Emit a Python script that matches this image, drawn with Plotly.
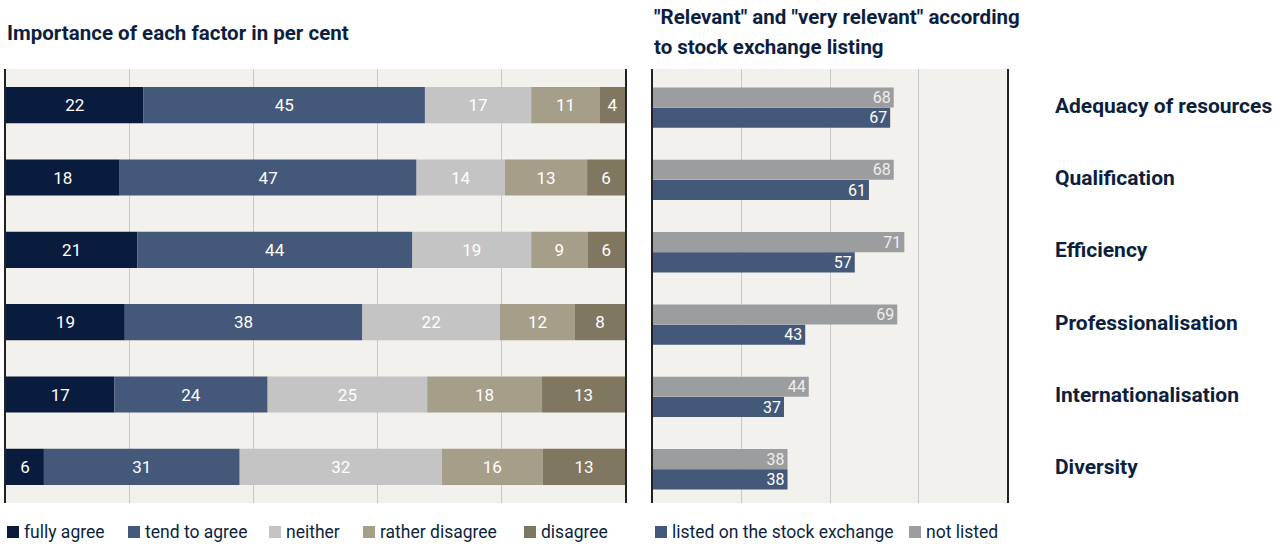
import plotly.graph_objects as go

# ---- data -------------------------------------------------------------
factors = ["Adequacy of resources", "Qualification", "Efficiency",
           "Professionalisation", "Internationalisation", "Diversity"]

answer_levels = ["fully agree", "tend to agree", "neither", "rather disagree", "disagree"]
fully_agree = [22, 18, 21, 19, 17, 6]
tend_to_agree = [45, 47, 44, 38, 24, 31]
neither = [17, 14, 19, 22, 25, 32]
rather_disagree = [11, 13, 9, 12, 18, 16]
disagree = [4, 6, 6, 8, 13, 13]

listing_groups = ["listed on the stock exchange", "not listed"]
listed = [67, 61, 57, 43, 37, 38]
not_listed = [68, 68, 71, 69, 44, 38]

# ---- styling ----------------------------------------------------------
W, H = 1288, 546
NAVY = "#0c1f3f"
FONT = "Roboto"
answer_colors = ["#0a1c3d", "#44587a", "#c4c4c4", "#a59f8a", "#807761"]
listing_colors = ["#44587a", "#9c9d9f"]
PLOT_BG = "#f3f1ed"
GRID = "#c9c9c9"


def px(x):
    return x / W


def py(y):
    return 1 - y / H


fig = go.Figure()

# ---- left panel: stacked shares of each answer (normalised to 100) -----
series = [fully_agree, tend_to_agree, neither, rather_disagree, disagree]
totals = [sum(vals) for vals in zip(*series)]
running = [0.0] * len(factors)
for name, vals, color in zip(answer_levels, series, answer_colors):
    share = [v / t * 100 for v, t in zip(vals, totals)]
    fig.add_trace(go.Bar(
        y=factors, x=share, base=list(running), orientation="h",
        name=name, marker=dict(color=color, line=dict(width=0)),
        width=0.5, text=[str(v) for v in vals],
        textposition="inside", insidetextanchor="middle", textangle=0,
        textfont=dict(family=FONT, size=17, color="white"),
        constraintext="none", hoverinfo="skip",
        xaxis="x", yaxis="y", showlegend=False,
    ))
    running = [r + s for r, s in zip(running, share)]

# ---- right panel: listed vs not listed ---------------------------------
fig.add_trace(go.Bar(
    y=factors, x=not_listed, orientation="h", name=listing_groups[1],
    marker=dict(color=listing_colors[1], line=dict(width=0)),
    width=0.277, offset=-0.245,
    text=[str(v) for v in not_listed], textposition="inside",
    insidetextanchor="end", constraintext="none", textangle=0,
    textfont=dict(family=FONT, size=16, color="#eeeeee"),
    hoverinfo="skip", xaxis="x2", yaxis="y2", showlegend=False,
))
fig.add_trace(go.Bar(
    y=factors, x=listed, orientation="h", name=listing_groups[0],
    marker=dict(color=listing_colors[0], line=dict(width=0)),
    width=0.277, offset=0.035,
    text=[str(v) for v in listed], textposition="inside",
    insidetextanchor="end", constraintext="none", textangle=0,
    textfont=dict(family=FONT, size=16, color="white"),
    hoverinfo="skip", xaxis="x2", yaxis="y2", showlegend=False,
))

y_dom = [py(503), py(69)]
axis_common = dict(showticklabels=False, zeroline=False, showgrid=True,
                   gridcolor=GRID, gridwidth=1, fixedrange=True, ticks="")
yaxis_common = dict(categoryorder="array", categoryarray=factors,
                    autorange="reversed", showgrid=False, zeroline=False,
                    showline=True, mirror=True, linecolor="#222222",
                    linewidth=1.5, ticks="", fixedrange=True, domain=y_dom)

fig.update_layout(
    width=W, height=H,
    margin=dict(l=0, r=0, t=0, b=0),
    paper_bgcolor="white", plot_bgcolor=PLOT_BG,
    barmode="overlay", showlegend=False,
    font=dict(family=FONT, color=NAVY),
    xaxis=dict(domain=[px(6), px(625)], range=[0, 100], dtick=20,
               anchor="y", **axis_common),
    yaxis=dict(anchor="x", showticklabels=False, **yaxis_common),
    xaxis2=dict(domain=[px(653), px(1007)], range=[0, 100], dtick=25,
                anchor="y2", **axis_common),
    yaxis2=dict(anchor="x2", side="right", showticklabels=True,
                ticklabelstandoff=42,
                tickfont=dict(family=FONT, size=21, color=NAVY, weight="bold"),
                **yaxis_common),
)

# ---- titles -----------------------------------------------------------
title_font = dict(family=FONT, size=20.5, color=NAVY, weight="bold")
titles = [
    ("Importance of each factor in per cent", 5, 33),
    ('"Relevant" and "very relevant" according', 652, 17),
    ("to stock exchange listing", 652, 47),
]
for txt, x, y in titles:
    fig.add_annotation(text=txt, x=px(x), y=py(y), xref="paper", yref="paper",
                       xanchor="left", yanchor="middle", showarrow=False,
                       font=title_font)

# ---- legends ----------------------------------------------------------
legend_y = 532
legend_font = dict(family=FONT, size=17.5, color=NAVY)
left_legend_x = [7, 128, 269, 363, 524]
right_legend_x = [655, 909]
entries = (list(zip(answer_levels, answer_colors, left_legend_x)) +
           list(zip(listing_groups, listing_colors, right_legend_x)))
for name, color, x in entries:
    fig.add_shape(type="rect", xref="paper", yref="paper",
                  x0=px(x), x1=px(x + 12), y0=py(legend_y + 6), y1=py(legend_y - 6),
                  fillcolor=color, line=dict(width=0))
    fig.add_annotation(text=name, x=px(x + 15), y=py(legend_y), xref="paper",
                       yref="paper", xanchor="left", yanchor="middle",
                       showarrow=False, font=legend_font)

fig.write_html("out.html")
